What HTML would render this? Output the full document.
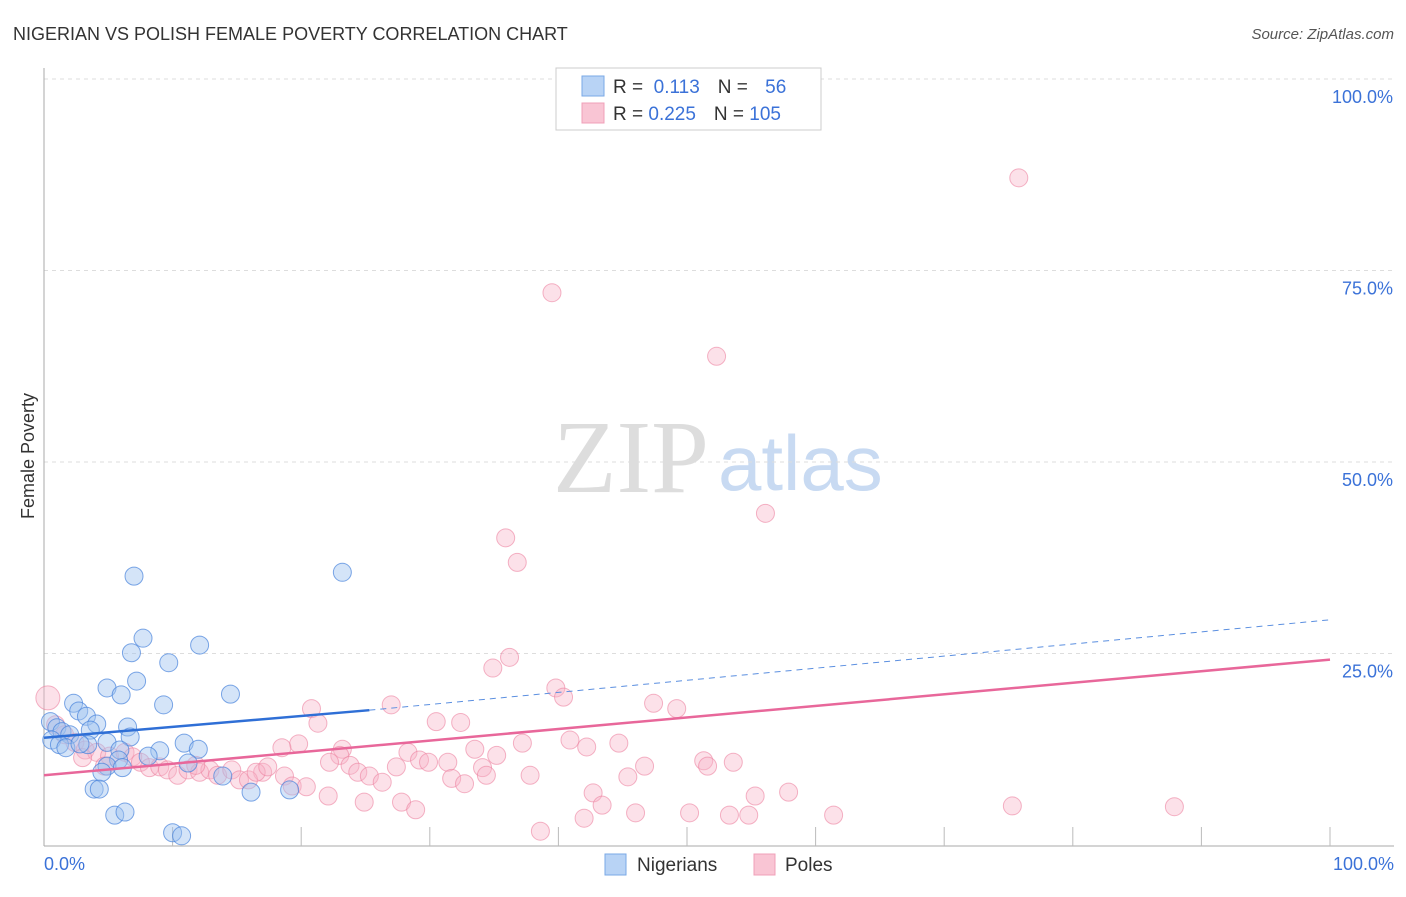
<!DOCTYPE html>
<html><head><meta charset="utf-8"><style>
body{margin:0;background:#fff;font-family:"Liberation Sans",sans-serif}
#c{position:relative;width:1406px;height:892px}
</style></head><body><div id="c">
<svg id="s" width="1406" height="892" xmlns="http://www.w3.org/2000/svg">
<text x="13" y="40" font-size="18" fill="#333">NIGERIAN VS POLISH FEMALE POVERTY CORRELATION CHART</text>
<text x="1394" y="39" font-size="15" fill="#555" font-style="italic" text-anchor="end">Source: ZipAtlas.com</text>
<text x="34" y="456" font-size="18" fill="#333" transform="rotate(-90 34 456)" text-anchor="middle">Female Poverty</text>
<text x="553" y="492" font-size="104" fill="#ddd" font-family="Liberation Serif,serif">ZIP</text>
<text x="718" y="490" font-size="78" fill="#c8daf2">atlas</text>
<g id="grid"></g><g id="pts"></g><g id="lines"></g>
<g>
<rect x="556" y="68" width="265" height="62" fill="#fff" stroke="#ccc"/>
<rect x="582" y="76" width="22" height="20" fill="#b8d3f5" stroke="#7aa8e6"/>
<rect x="582" y="103" width="22" height="20" fill="#f9c5d4" stroke="#f0a0b8"/>
<text x="613" y="93" font-size="19" fill="#333">R = <tspan fill="#3b72d8">&#160;0.113</tspan><tspan dx="18">N = </tspan><tspan fill="#3b72d8" dx="12">56</tspan></text>
<text x="613" y="120" font-size="19" fill="#333">R = <tspan fill="#3b72d8">0.225</tspan><tspan dx="18">N = </tspan><tspan fill="#3b72d8">105</tspan></text>
</g>
<g>
<rect x="605" y="854" width="21" height="21" fill="#b8d3f5" stroke="#7aa8e6"/>
<text x="637" y="871" font-size="19" fill="#333">Nigerians</text>
<rect x="754" y="854" width="21" height="21" fill="#f9c5d4" stroke="#f0a0b8"/>
<text x="785" y="871" font-size="19" fill="#333">Poles</text>
</g>
</svg></div>
<script>
const yTicks=[25,50,75,100];
const yTickLabels=["25.0%","50.0%","75.0%","100.0%"];
const xLabels=["0.0%","100.0%"];
const blueX=[7.0,23.2,7.7,6.8,12.1,9.7,7.2,4.9,6.0,14.5,9.3,2.3,2.7,3.3,4.1,6.5,3.6,0.5,1.0,1.4,2.0,0.6,1.2,6.7,4.9,3.4,5.9,10.9,12.0,9.0,8.1,5.8,4.9,6.1,4.5,11.2,13.9,16.1,19.1,3.9,4.3,5.5,6.3,10.0,10.7,1.7,2.8];
const blueY=[35.1,35.6,27.0,25.1,26.1,23.8,21.4,20.5,19.6,19.7,18.3,18.5,17.5,16.8,15.8,15.4,15.0,16.1,15.3,14.8,14.4,13.7,13.1,14.1,13.4,13.1,12.4,13.3,12.5,12.3,11.6,11.1,10.3,10.1,9.5,10.7,9.0,6.9,7.2,7.3,7.3,3.9,4.3,1.6,1.2,12.7,13.2];
const pinkX=[75.8,39.5,52.3,56.1,35.9,36.8,36.2,34.9,39.8,40.4,47.4,49.2,27.0,20.8,21.3,30.5,32.4,0.3,19.8,18.5,23.2,23.0,28.3,33.5,35.2,37.2,40.9,42.2,44.7,22.2,23.8,29.2,29.9,31.4,27.4,34.1,46.7,51.3,51.6,53.6,24.4,25.3,26.3,31.7,32.7,34.4,37.8,45.4,17.0,18.7,19.3,20.4,22.1,24.9,27.8,28.9,42.7,43.4,46.0,38.6,42.0,50.2,53.3,54.8,55.3,57.9,61.4,75.3,87.9,0.9,1.6,2.4,3.2,4.1,5.1,6.3,6.9,7.5,8.2,9.0,9.6,10.4,11.2,12.1,12.9,13.5,14.6,15.2,15.9,16.5,17.4,11.8,4.7,3.0];
const pinkY=[87.1,72.1,63.8,43.3,40.1,36.9,24.5,23.1,20.5,19.3,18.5,17.8,18.3,17.8,15.9,16.1,16.0,19.2,13.2,12.7,12.5,11.7,12.1,12.5,11.7,13.3,13.7,12.8,13.3,10.8,10.4,11.1,10.8,10.8,10.2,10.1,10.3,11.0,10.3,10.8,9.5,9.0,8.2,8.7,8.0,9.1,9.1,8.9,9.5,9.0,7.7,7.6,6.4,5.6,5.6,4.6,6.8,5.2,4.2,1.8,3.5,4.2,3.9,3.9,6.4,6.9,3.9,5.1,5.0,15.7,14.4,13.4,12.4,12.1,11.6,12.1,11.5,10.8,10.1,10.2,9.8,9.1,9.8,9.5,9.8,9.1,9.8,8.5,8.5,9.5,10.2,10.4,10.3,11.4];
const blueTrend=[14.0,17.6,29.4];
const blueSolidEnd=25.3;
const pinkTrend=[9.1,24.2];
const NS="http://www.w3.org/2000/svg";
const X=v=>44+v*12.86, Y=v=>845-v*7.66;
function mk(t,a,p){const e=document.createElementNS(NS,t);for(const k in a)e.setAttribute(k,a[k]);p.appendChild(e);return e;}
const g=document.getElementById('grid');
yTicks.forEach((t,i)=>{
 const l=mk('line',{x1:44,x2:1394,y1:Y(t),y2:Y(t),stroke:'#ddd','stroke-dasharray':'4,4'},g);
 
 
 const tx=mk('text',{x:1393,y:Y(t)+24,'font-size':18,fill:'#3b72d8','text-anchor':'end'},g);tx.textContent=yTickLabels[i];
 
 
});
const topLine=mk('line',{x1:44,x2:1394,y1:79,y2:79,stroke:'#ddd','stroke-dasharray':'4,4'},g);


const ya=mk('line',{x1:44,x2:44,y1:68,y2:846,stroke:'#aaa'},g);


const xa=mk('line',{x1:44,x2:1394,y1:846,y2:846,stroke:'#aaa'},g);


for(let i=1;i<=10;i++){const t=mk('line',{x1:X(i*10),x2:X(i*10),y1:827,y2:846,stroke:'#bbb'},g);
 
 }
[[0,'start',44],[100,'end',1394]].forEach((d,i)=>{const t=mk('text',{x:d[2],y:870,'font-size':18,fill:'#3b72d8','text-anchor':d[1]},g);t.textContent=xLabels[i];
 
 });
const p=document.getElementById('pts');
pinkX.forEach((x,i)=>{const c=mk('circle',{cx:X(x),cy:Y(pinkY[i]),r:i==17?12:9,fill:'rgba(248,180,200,0.4)',stroke:'rgba(236,130,160,0.6)'},p);
 
 });
blueX.forEach((x,i)=>{const c=mk('circle',{cx:X(x),cy:Y(blueY[i]),r:9,fill:'rgba(160,196,240,0.45)',stroke:'rgba(70,130,220,0.7)'},p);
 
 });
const L=document.getElementById('lines');
const b1=mk('line',{x1:X(0),y1:Y(blueTrend[0]),x2:X(blueSolidEnd),y2:Y(blueTrend[1]),stroke:'#2f6fd6','stroke-width':2.5},L);


const b2=mk('line',{x1:X(blueSolidEnd),y1:Y(blueTrend[1]),x2:X(100),y2:Y(blueTrend[2]),stroke:'#5b8fe0','stroke-width':1,'stroke-dasharray':'6,5'},L);


const pl=mk('line',{x1:X(0),y1:Y(pinkTrend[0]),x2:X(100),y2:Y(pinkTrend[1]),stroke:'#e8679a','stroke-width':2.5},L);


</script></body></html>
